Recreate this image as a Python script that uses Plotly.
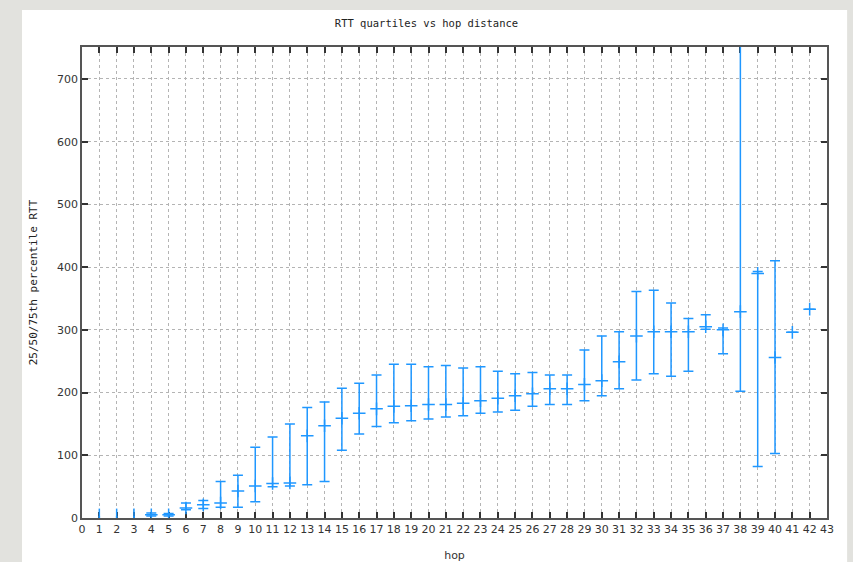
import plotly.graph_objects as go

hops = list(range(1, 43))
q25 = [0, 0, 0, 3, 3, 13, 15, 17, 17, 26, 50, 51, 53, 58, 108, 134, 146, 152, 155, 158,
       161, 163, 167, 169, 172, 178, 181, 181, 187, 195, 206, 220, 230, 226, 234, 301, 262,
       202, 82, 103, 296, 333]
median = [1, 1, 1, 5, 5, 16, 21, 24, 43, 51, 55, 56, 131, 147, 159, 167, 174, 178, 179, 181,
          181, 183, 187, 191, 195, 198, 206, 206, 213, 219, 249, 290, 297, 297, 297, 305, 300,
          329, 390, 256, 296, 333]
q75 = [15, 15, 15, 8, 7, 24, 28, 58, 68, 113, 129, 150, 176, 185, 207, 215, 228, 245, 245, 241,
       243, 239, 241, 234, 230, 232, 228, 228, 268, 290, 297, 361, 363, 343, 318, 324, 303,
       1000, 393, 410, 296, 333]

title_text = "RTT quartiles vs hop distance"
x_title = "hop"
y_title = "25/50/75th percentile RTT"
x_ticks = list(range(0, 44))
y_ticks = [0, 100, 200, 300, 400, 500, 600, 700]

blue = "#1f97ff"

fig = go.Figure()

# small hops (no visible caps)
n0 = 3
fig.add_trace(go.Scatter(
    x=hops[:n0], y=median[:n0], mode="markers",
    marker=dict(symbol="line-ns", size=2, color=blue, line=dict(color=blue, width=1.5)),
    error_y=dict(type="data", symmetric=False,
                 array=[a - b for a, b in zip(q75[:n0], median[:n0])],
                 arrayminus=[b - a for a, b in zip(q25[:n0], median[:n0])],
                 color=blue, thickness=1.5, width=0),
    showlegend=False, cliponaxis=True))

fig.add_trace(go.Scatter(
    x=hops[n0:], y=median[n0:], mode="markers",
    marker=dict(symbol="cross-thin", size=9, color=blue, line=dict(color=blue, width=1.5)),
    error_y=dict(type="data", symmetric=False,
                 array=[a - b for a, b in zip(q75[n0:], median[n0:])],
                 arrayminus=[b - a for a, b in zip(q25[n0:], median[n0:])],
                 color=blue, thickness=1.5, width=5),
    showlegend=False, cliponaxis=True))

fig.add_shape(type="rect", xref="paper", yref="paper",
              x0=-0.0805, x1=1.027, y0=-0.1, y1=1.0787,
              fillcolor="white", line=dict(width=0), layer="below")

axis_common = dict(
    showgrid=True, gridcolor="#b4b4b4", griddash="dot", gridwidth=1,
    zeroline=False, showline=True, linecolor="#555555", linewidth=1.5,
    mirror="allticks", ticks="inside", ticklen=6, tickcolor="#333333", tickwidth=1.5,
    tickfont=dict(family="DejaVu Sans", size=11, color="#333333"),
    automargin=False, layer="below traces",
)

fig.update_layout(
    width=853, height=562,
    margin=dict(l=82, r=26, t=47, b=44),
    paper_bgcolor="#e2e2de", plot_bgcolor="white",
    title=dict(text=title_text, x=0.5, xanchor="center", y=1 - 23 / 562, yanchor="middle",
               font=dict(family="DejaVu Sans Mono", size=10.5, color="#222222")),
    xaxis=dict(range=[0, 43], tickvals=x_ticks, ticktext=[str(t) for t in x_ticks],
               title=dict(text=x_title, standoff=16,
                          font=dict(family="DejaVu Sans", size=11, color="#333333")),
               **axis_common),
    yaxis=dict(range=[0, 751], tickvals=y_ticks, ticktext=[str(t) for t in y_ticks],
               title=dict(text=y_title, standoff=17,
                          font=dict(family="DejaVu Sans Mono", size=11, color="#222222")),
               **axis_common),
)

fig.write_html("out.html", config={"displayModeBar": False},
               post_script="document.body.style.margin='0';document.body.style.padding='0';")
